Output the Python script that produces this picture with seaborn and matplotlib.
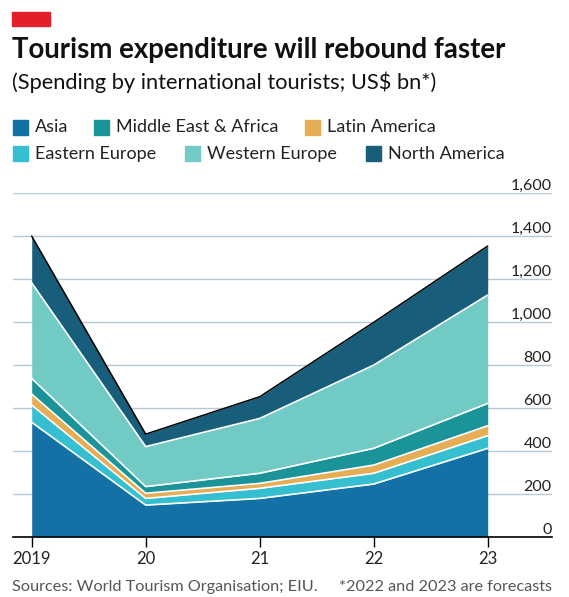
import matplotlib
matplotlib.use("Agg")
import matplotlib.pyplot as plt
import matplotlib.patches as mpatches
import pandas as pd
import seaborn as sns

# values (US$ bn)
years = [2019, 2020, 2021, 2022, 2023]
year_labels = ["2019", "20", "21", "22", "23"]
asia = [532, 147, 178, 245, 411]
eastern_europe = [80, 31, 47, 50, 59]
latin_america = [51, 24, 23, 38, 46]
middle_east_africa = [73, 31, 47, 78, 104]
western_europe = [445, 186, 255, 387, 504]
north_america = [217, 58, 101, 199, 228]
y_ticks = [0, 200, 400, 600, 800, 1000, 1200, 1400, 1600]

# stacking order, bottom to top
layers = ["Asia", "Eastern Europe", "Latin America", "Middle East & Africa",
          "Western Europe", "North America"]
colours = {
    "Asia": "#1471a6",
    "Eastern Europe": "#36bfd1",
    "Latin America": "#e6ad55",
    "Middle East & Africa": "#1b9499",
    "Western Europe": "#72cac4",
    "North America": "#185e7a",
}
df = pd.DataFrame({
    "year": years,
    "Asia": asia,
    "Eastern Europe": eastern_europe,
    "Latin America": latin_america,
    "Middle East & Africa": middle_east_africa,
    "Western Europe": western_europe,
    "North America": north_america,
})

sns.set_theme(style="white")
plt.rcParams["font.family"] = ["Lato", "DejaVu Sans"]

W, H = 569, 597
fig = plt.figure(figsize=(W / 100, H / 100), dpi=100)
ax = fig.add_axes([12.7 / W, 1 - 536.7 / H, (551.7 - 12.7) / W, (536.7 - 192.7) / H])

ax.stackplot(df["year"], [df[c] for c in layers],
             colors=[colours[c] for c in layers], linewidth=0, zorder=2)

# white separators between layers, black outline on top
cum = df[layers].cumsum(axis=1)
for c in layers[:-1]:
    sns.lineplot(x=df["year"], y=cum[c], color="white", linewidth=1.2, ax=ax, zorder=3)
sns.lineplot(x=df["year"], y=cum[layers[-1]], color="black", linewidth=1.1, ax=ax, zorder=4)

ax.set_xlim(2019 - 19 / 114, 2023 + 64 / 114)
ax.set_ylim(0, 1600)
ax.set_xlabel("")
ax.set_ylabel("")

ax.set_yticks(y_ticks)
ax.yaxis.grid(True, color="#b9c8d2", linewidth=1, zorder=0)
ax.set_axisbelow(True)
ax.yaxis.tick_right()
ax.set_yticklabels([f"{v:,}" for v in y_ticks])
ax.tick_params(axis="y", length=0, pad=0, labelsize=11.5, labelcolor="#222222")
for lab in ax.get_yticklabels():
    lab.set_horizontalalignment("right")
    lab.set_verticalalignment("bottom")

ax.set_xticks(years)
ax.set_xticklabels(year_labels)
ax.tick_params(axis="x", bottom=True, length=7, width=1, color="black",
               labelsize=12, labelcolor="#222222", pad=3)

sns.despine(ax=ax, left=True, right=True, top=True)
ax.spines["bottom"].set_color("black")
ax.spines["bottom"].set_linewidth(1.2)
ax.spines["bottom"].set_zorder(5)

# header
fig.patches.append(mpatches.Rectangle((12 / W, 1 - 26 / H), 38 / W, 14 / H,
                                      transform=fig.transFigure, color="#e3202a"))
fig.text(12 / W, 1 - 50 / H, "Tourism expenditure will rebound faster",
         fontsize=19.9, fontweight="bold", va="center", ha="left", color="#111111")
fig.text(12 / W, 1 - 82 / H, "(Spending by international tourists; US$ bn*)",
         fontsize=15.7, va="center", ha="left", color="#111111")

# legend, laid out as in the original
legend_rows = [
    [("Asia", 13), ("Middle East & Africa", 94.3), ("Latin America", 305)],
    [("Eastern Europe", 13), ("Western Europe", 185.3), ("North America", 366.3)],
]
for row_y, row in zip([127.5, 154], legend_rows):
    for name, x0 in row:
        fig.patches.append(mpatches.Rectangle((x0 / W, 1 - (row_y + 7.5) / H), 15 / W, 15 / H,
                                              transform=fig.transFigure,
                                              color=colours[name]))
        fig.text((x0 + 22) / W, 1 - row_y / H, name, fontsize=13, va="center",
                 ha="left", color="#222222")

# footer
fig.text(12 / W, 1 - 587 / H, "Sources: World Tourism Organisation; EIU.",
         fontsize=11.7, va="center", ha="left", color="#555555")
fig.text(552 / W, 1 - 587 / H, "*2022 and 2023 are forecasts",
         fontsize=11.7, va="center", ha="right", color="#555555")

fig.savefig("out.png", dpi=100, facecolor="white")
